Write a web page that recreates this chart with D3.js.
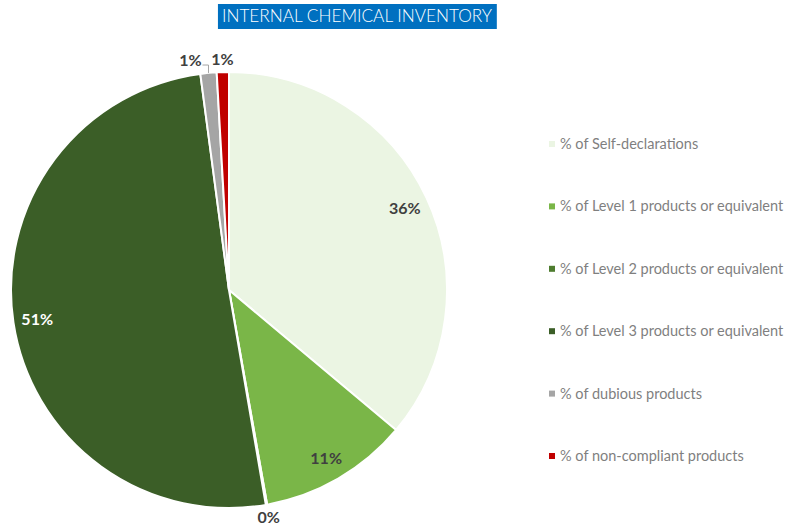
<!DOCTYPE html>
<html>
<head>
<meta charset="utf-8">
<script src="https://cdn.jsdelivr.net/npm/d3@7"></script>
<style>
  body { margin: 0; background: #fff; }
  svg text { font-family: Lato, "Open Sans", sans-serif; }
</style>
</head>
<body>
<svg id="chart" width="790" height="528"></svg>
<script>
// chart data
var categories = [
    "% of Self-declarations",
    "% of Level 1 products or equivalent",
    "% of Level 2 products or equivalent",
    "% of Level 3 products or equivalent",
    "% of dubious products",
    "% of non-compliant products"
];
var values = [36.1, 11.1, 0.1, 50.6, 1.2, 0.9];
var colors = ["#ebf5e3", "#7ab648", "#4e7c2f", "#3b5e27", "#a5a5a5", "#c00000"];
var title = "INTERNAL CHEMICAL INVENTORY";

var width = 790, height = 528;
var cx = 229, cy = 290, radius = 218;

var svg = d3.select("#chart");

// title box
var titleG = svg.append("g");
var titleText = titleG.append("text")
    .attr("x", 357).attr("y", 22)
    .attr("text-anchor", "middle")
    .attr("fill", "#fff")
    .style("font-size", "17.2px")
    .style("font-weight", 300)
    .text(title);
var bb = titleText.node().getBBox();
titleG.insert("rect", "text")
    .attr("x", bb.x - 4).attr("y", 4)
    .attr("width", bb.width + 8).attr("height", 25)
    .attr("fill", "#0070c0");

// pie
var g = svg.append("g").attr("transform", "translate(" + cx + "," + cy + ")");

var data = categories.map(function (c, i) { return {label: c, value: values[i], color: colors[i]}; });

var pie = d3.pie().value(function (d) { return d.value; }).sort(null);
var arc = d3.arc().innerRadius(0).outerRadius(radius);
var arcs = pie(data);

g.selectAll("path")
    .data(arcs)
    .enter()
    .append("path")
    .attr("d", arc)
    .attr("fill", function (d) { return d.data.color; })
    .attr("stroke", "#fff")
    .attr("stroke-width", 2);

// labels
var inner = d3.arc().innerRadius(radius * 0.89).outerRadius(radius * 0.89);
var outer = d3.arc().innerRadius(radius + 13).outerRadius(radius + 13);

var labels = arcs.map(function (d) {
    var small = d.data.value < 3;
    var p = small ? outer.centroid(d) : inner.centroid(d);
    return {d: d, small: small, x: p[0], y: p[1], ax: p[0], text: Math.round(d.data.value) + "%"};
});

// push overlapping outside labels apart (earlier one goes left)
for (var i = labels.length - 1; i > 0; i--) {
    var a = labels[i - 1], b = labels[i];
    if (a.small && b.small && Math.abs(a.y - b.y) < 14 && b.x - a.x < 30) {
        a.x = b.x - 32;
    }
}

labels.forEach(function (l) {
    if (l.small && l.x !== l.ax) {
        var mid = (l.d.startAngle + l.d.endAngle) / 2;
        var ex = Math.sin(mid) * radius, ey = -Math.cos(mid) * radius;
        g.append("polyline")
            .attr("points", [[ex, ey], [ex, l.y + 5], [l.x + 12, l.y + 5]].map(function (p) { return p.join(","); }).join(" "))
            .attr("fill", "none")
            .attr("stroke", "#a5a5a5")
            .attr("stroke-width", 1);
    }
    g.append("text")
        .attr("x", l.x).attr("y", l.y)
        .attr("dy", "0.35em")
        .attr("text-anchor", "middle")
        .attr("fill", l.d.data.color === "#3b5e27" ? "#ffffff" : "#404040")
        .style("font-size", "16px")
        .style("font-weight", 700)
        .text(l.text);
});

// legend
var legend = svg.append("g").attr("transform", "translate(549,144)");
var items = legend.selectAll("g")
    .data(data)
    .enter()
    .append("g")
    .attr("transform", function (d, i) { return "translate(0," + (i * 62.4) + ")"; });

items.append("rect")
    .attr("x", 0).attr("y", -3)
    .attr("width", 6).attr("height", 6)
    .attr("fill", function (d) { return d.color; });

items.append("text")
    .attr("x", 11).attr("y", 0)
    .attr("dy", "0.35em")
    .attr("fill", "#7f7f7f")
    .style("font-size", "14.5px")
    .text(function (d) { return d.label; });
</script>
</body>
</html>
